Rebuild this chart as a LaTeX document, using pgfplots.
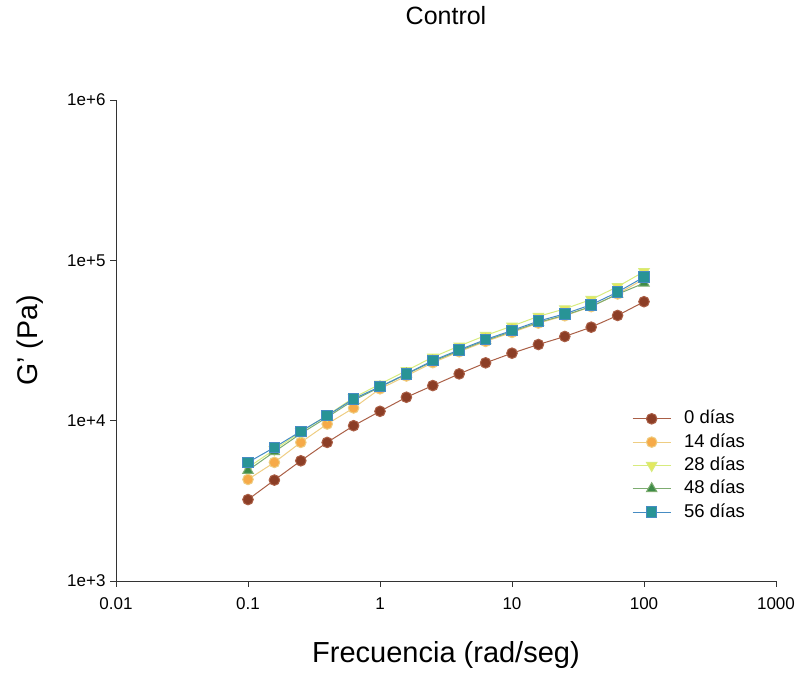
\documentclass[border=0pt]{standalone}
\usepackage{fontspec}
\setmainfont{Liberation Sans}
\usepackage{pgfplots}
\pgfplotsset{compat=1.18}
\definecolor{brF}{RGB}{140,62,38}
\definecolor{brL}{RGB}{170,95,70}
\definecolor{orF}{RGB}{246,170,72}
\definecolor{orL}{RGB}{238,205,130}
\definecolor{yeF}{RGB}{228,232,95}
\definecolor{yeL}{RGB}{215,235,125}
\definecolor{grF}{RGB}{62,140,72}
\definecolor{grL}{RGB}{125,172,112}
\definecolor{tqF}{RGB}{40,148,150}
\definecolor{tqL}{RGB}{70,140,195}
\begin{document}
\begin{tikzpicture}
\begin{axis}[
  name=ax,
  scale only axis,
  width=660pt, height=481pt,
  xmode=log, ymode=log,
  xmin=0.01, xmax=1000, ymin=1000, ymax=1000000,
  axis x line*=bottom, axis y line*=left,
  axis line style={-, line width=0.9pt, black!80},
  xtick={0.01,0.1,1,10,100,1000},
  xticklabels={0.01,0.1,1,10,100,1000},
  ytick={1000,10000,100000,1000000},
  yticklabels={1e+3,1e+4,1e+5,1e+6},
  xminorticks=false, yminorticks=false,
  tick align=outside,
  major tick length=6pt,
  tick style={line width=0.9pt, black!80},
  ticklabel style={font=\fontsize{17}{20}\selectfont},
  xticklabel style={yshift=-7pt},
  yticklabel style={xshift=-1pt},
  title={Control},
  title style={at={(axis description cs:0.5,1.164)}, anchor=center, font=\fontsize{25}{29}\selectfont},
  xlabel={Frecuencia (rad/seg)},
  xlabel style={at={(axis description cs:0.5,-0.154)}, anchor=center, font=\fontsize{29}{33}\selectfont},
  ylabel={G' (Pa)},
  ylabel style={at={(axis description cs:-0.130,0.5)}, anchor=center, font=\fontsize{28.5}{32}\selectfont},
  legend style={at={(axis description cs:0.7818,0.3563)}, anchor=north west, draw=none, fill=none, inner sep=0pt,
    font=\fontsize{18.5}{21}\selectfont, row sep=5.3pt, column sep=13pt,
    nodes={inner sep=0pt, text height=14pt, text depth=4pt}},
  legend cell align=left,
  legend image code/.code={\draw[mark repeat=2,mark phase=2,#1] plot coordinates {(0pt,0pt) (19pt,0pt) (38pt,0pt)};},
  every axis plot/.append style={line width=1pt, mark options={draw=black!85, line width=0.6pt, solid}},
]
\addplot[color=brL, mark=*, mark size=5.3pt, mark options={fill=brF}] coordinates {
(0.1,3220) (0.1585,4260) (0.2512,5620) (0.3981,7320) (0.631,9300) (1,11440) (1.585,14000) (2.512,16550) (3.981,19580) (6.31,22940) (10,26350) (15.85,29850) (25.12,33500) (39.81,38300) (63.1,45300) (100,55200)};
\addlegendentry{0 días}
\addplot[color=orL, mark=*, mark size=5.3pt, mark options={fill=orF}] coordinates {
(0.1,4300) (0.1585,5490) (0.2512,7320) (0.3981,9530) (0.631,12000) (1,15800) (1.585,19000) (2.512,23000) (3.981,26900) (6.31,31200) (10,35500) (15.85,40600) (25.12,45100) (39.81,51400) (63.1,61700) (100,76500)};
\addlegendentry{14 días}
\addplot[color=yeL, mark=triangle*, mark size=6pt, mark options={fill=yeF, rotate=180}] coordinates {
(0.1,5100) (0.1585,6600) (0.2512,8500) (0.3981,10800) (0.631,13900) (1,16900) (1.585,20500) (2.512,24900) (3.981,29200) (6.31,34000) (10,38900) (15.85,44700) (25.12,49800) (39.81,57000) (63.1,68500) (100,85000)};
\addlegendentry{28 días}
\addplot[color=grL, mark=triangle*, mark size=6pt, mark options={fill=grF}] coordinates {
(0.1,4900) (0.1585,6400) (0.2512,8300) (0.3981,10500) (0.631,13400) (1,16200) (1.585,19500) (2.512,23400) (3.981,27300) (6.31,31600) (10,36000) (15.85,41000) (25.12,45500) (39.81,51500) (63.1,61500) (100,72000)};
\addlegendentry{48 días}
\addplot[color=tqL, mark=square*, mark size=5.3pt, mark options={fill=tqF}] coordinates {
(0.1,5490) (0.1585,6810) (0.2512,8580) (0.3981,10740) (0.631,13670) (1,16310) (1.585,19580) (2.512,23710) (3.981,27660) (6.31,32060) (10,36520) (15.85,41780) (25.12,46400) (39.81,52850) (63.1,63380) (100,78660)};
\addlegendentry{56 días}
\end{axis}
\pgfresetboundingbox
\path ([xshift=-116pt,yshift=-94pt]ax.south west) rectangle ([xshift=25pt,yshift=100pt]ax.north east);
\end{tikzpicture}
\end{document}
